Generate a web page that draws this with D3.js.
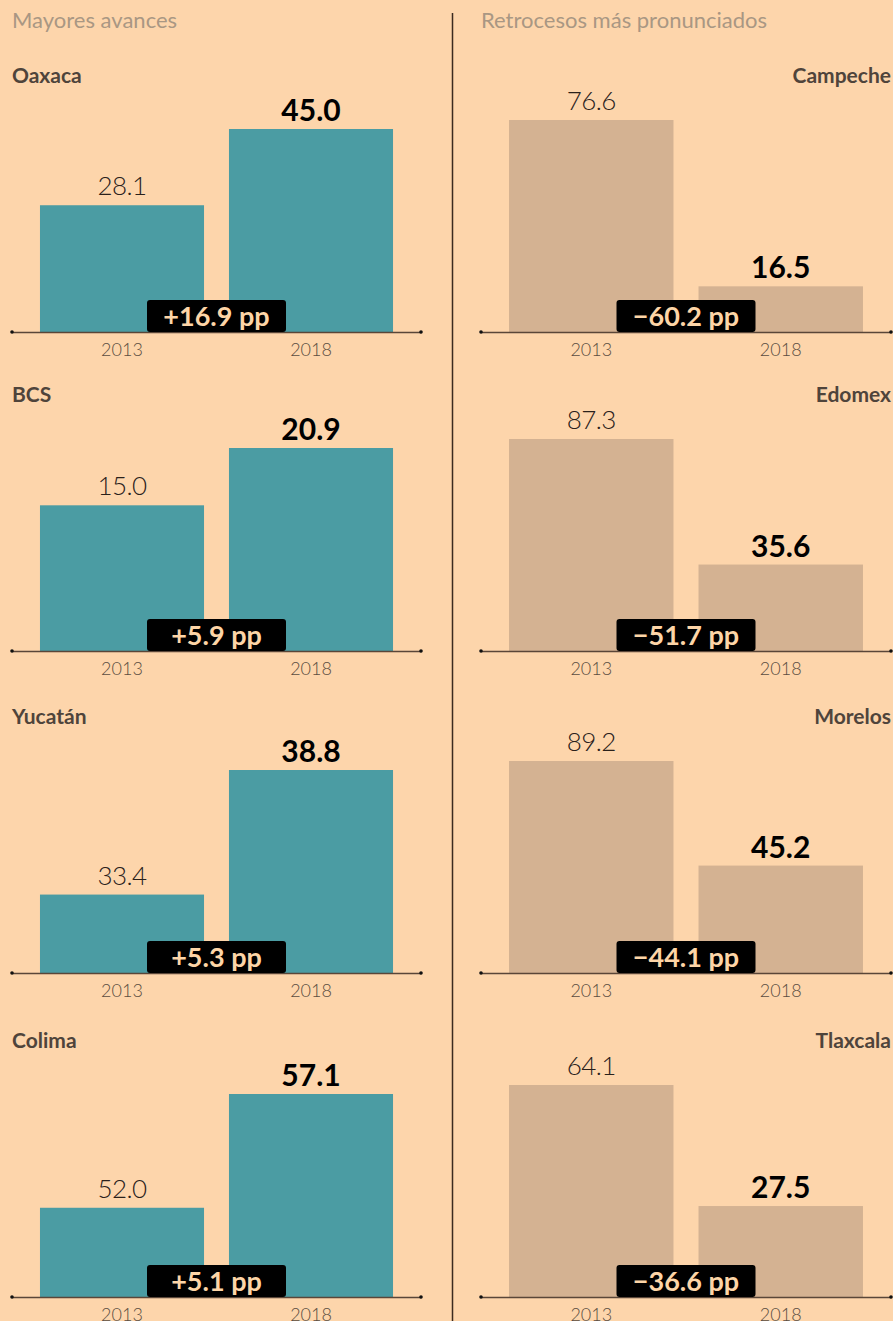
<!DOCTYPE html>
<html>
<head>
<meta charset="utf-8">
<script src="https://cdn.jsdelivr.net/npm/d3@7"></script>
<style>
  html, body { margin: 0; padding: 0; background: #fdd5ab; }
  svg { display: block; font-family: Lato, "Open Sans", sans-serif; }
</style>
</head>
<body>
<svg id="chart" width="893" height="1321"></svg>
<script>
// data
const years = ["2013", "2018"];

const upStates = ["Oaxaca", "BCS", "Yucatán", "Colima"];
const up2013 = [28.1, 15.0, 33.4, 52.0];
const up2018 = [45.0, 20.9, 38.8, 57.1];
const upDiff = [16.9, 5.9, 5.3, 5.1];
// the source cuts the value axis for some panels
const upFloor = [0, 0, 30, 48];

const downStates = ["Campeche", "Edomex", "Morelos", "Tlaxcala"];
const down2013 = [76.6, 87.3, 89.2, 64.1];
const down2018 = [16.5, 35.6, 45.2, 27.5];
const downDiff = [-60.2, -51.7, -44.1, -36.6];
const downFloor = [0, 0, 0, 0];

const headers = ["Mayores avances", "Retrocesos más pronunciados"];

// layout
const svg = d3.select("#chart");
const axisY = [332, 651, 973, 1297];
const columns = [
  { x0: 12, x1: 421, maxH: 203, color: "#4b9ca3", titleAnchor: "start",
    states: upStates, a: up2013, b: up2018, diff: upDiff, floor: upFloor },
  { x0: 481, x1: 891, maxH: 212, color: "#d4b292", titleAnchor: "end",
    states: downStates, a: down2013, b: down2018, diff: downDiff, floor: downFloor }
];

const fmtDiff = d => (d > 0 ? "+" : "−") + Math.abs(d).toFixed(1) + " pp";

// divider between the two columns
svg.append("line")
  .attr("x1", 452.5).attr("x2", 452.5)
  .attr("y1", 13).attr("y2", 1321)
  .attr("stroke", "#3b2a1f")
  .attr("stroke-width", 1.5);

columns.forEach((col, ci) => {
  svg.append("text")
    .attr("x", col.x0)
    .attr("y", 28)
    .attr("fill", "#a99783")
    .style("font-size", "22px")
    .text(headers[ci]);

  const x = d3.scaleBand()
    .domain(years)
    .range([col.x0, col.x1])
    .paddingInner(0.132)
    .paddingOuter(0.148);

  col.states.forEach((st, i) => {
    const base = axisY[i];
    const vals = [col.a[i], col.b[i]];
    const y = d3.scaleLinear()
      .domain([col.floor[i], d3.max(vals)])
      .range([base, base - col.maxH]);

    const g = svg.append("g");

    g.append("text")
      .attr("x", col.titleAnchor === "start" ? col.x0 : col.x1)
      .attr("y", base - 249)
      .attr("text-anchor", col.titleAnchor)
      .attr("fill", "#4f443b")
      .style("font-size", "21px")
      .style("font-weight", 700)
      .text(st);

    g.selectAll("rect.bar")
      .data(vals)
      .join("rect")
      .attr("class", "bar")
      .attr("x", (d, j) => x(years[j]))
      .attr("y", d => y(d))
      .attr("width", x.bandwidth())
      .attr("height", d => base - y(d))
      .attr("fill", col.color);

    // value labels: 2013 light, 2018 bold
    g.selectAll("text.val")
      .data(vals)
      .join("text")
      .attr("class", "val")
      .attr("x", (d, j) => x(years[j]) + x.bandwidth() / 2)
      .attr("y", (d, j) => y(d) - (j === 0 ? 10 : 8))
      .attr("text-anchor", "middle")
      .attr("fill", (d, j) => j === 0 ? "#2a211b" : "#000")
      .style("font-size", (d, j) => j === 0 ? "26px" : "30px")
      .style("font-weight", (d, j) => j === 0 ? 300 : 700)
      .style("letter-spacing", (d, j) => j === 0 ? "-0.6px" : "0px")
      .text(d => d.toFixed(1));

    // axis
    const ax = g.append("g")
      .attr("transform", `translate(0,${base})`)
      .call(d3.axisBottom(x).tickSize(0).tickPadding(11));
    ax.select(".domain").attr("stroke", "#5a4638").attr("stroke-width", 1.5);
    ax.selectAll("text")
      .attr("fill", "#5b4d41")
      .style("font-size", "18px")
      .style("font-weight", 300)
      .style("font-family", "Lato, sans-serif");
    g.selectAll("circle.end")
      .data(x.range())
      .join("circle")
      .attr("class", "end")
      .attr("cx", d => d)
      .attr("cy", base)
      .attr("r", 1.8)
      .attr("fill", "#111");

    // difference badge
    const cx = (col.x0 + col.x1) / 2;
    g.append("rect")
      .attr("x", cx - 69.5)
      .attr("y", base - 32)
      .attr("width", 139)
      .attr("height", 32)
      .attr("rx", 3)
      .attr("fill", "#000");
    g.append("text")
      .attr("x", cx)
      .attr("y", base - 6)
      .attr("text-anchor", "middle")
      .attr("fill", "#fdd5a7")
      .style("font-size", "27px")
      .style("font-weight", 700)
      .text(fmtDiff(col.diff[i]));
  });
});
</script>
</body>
</html>
